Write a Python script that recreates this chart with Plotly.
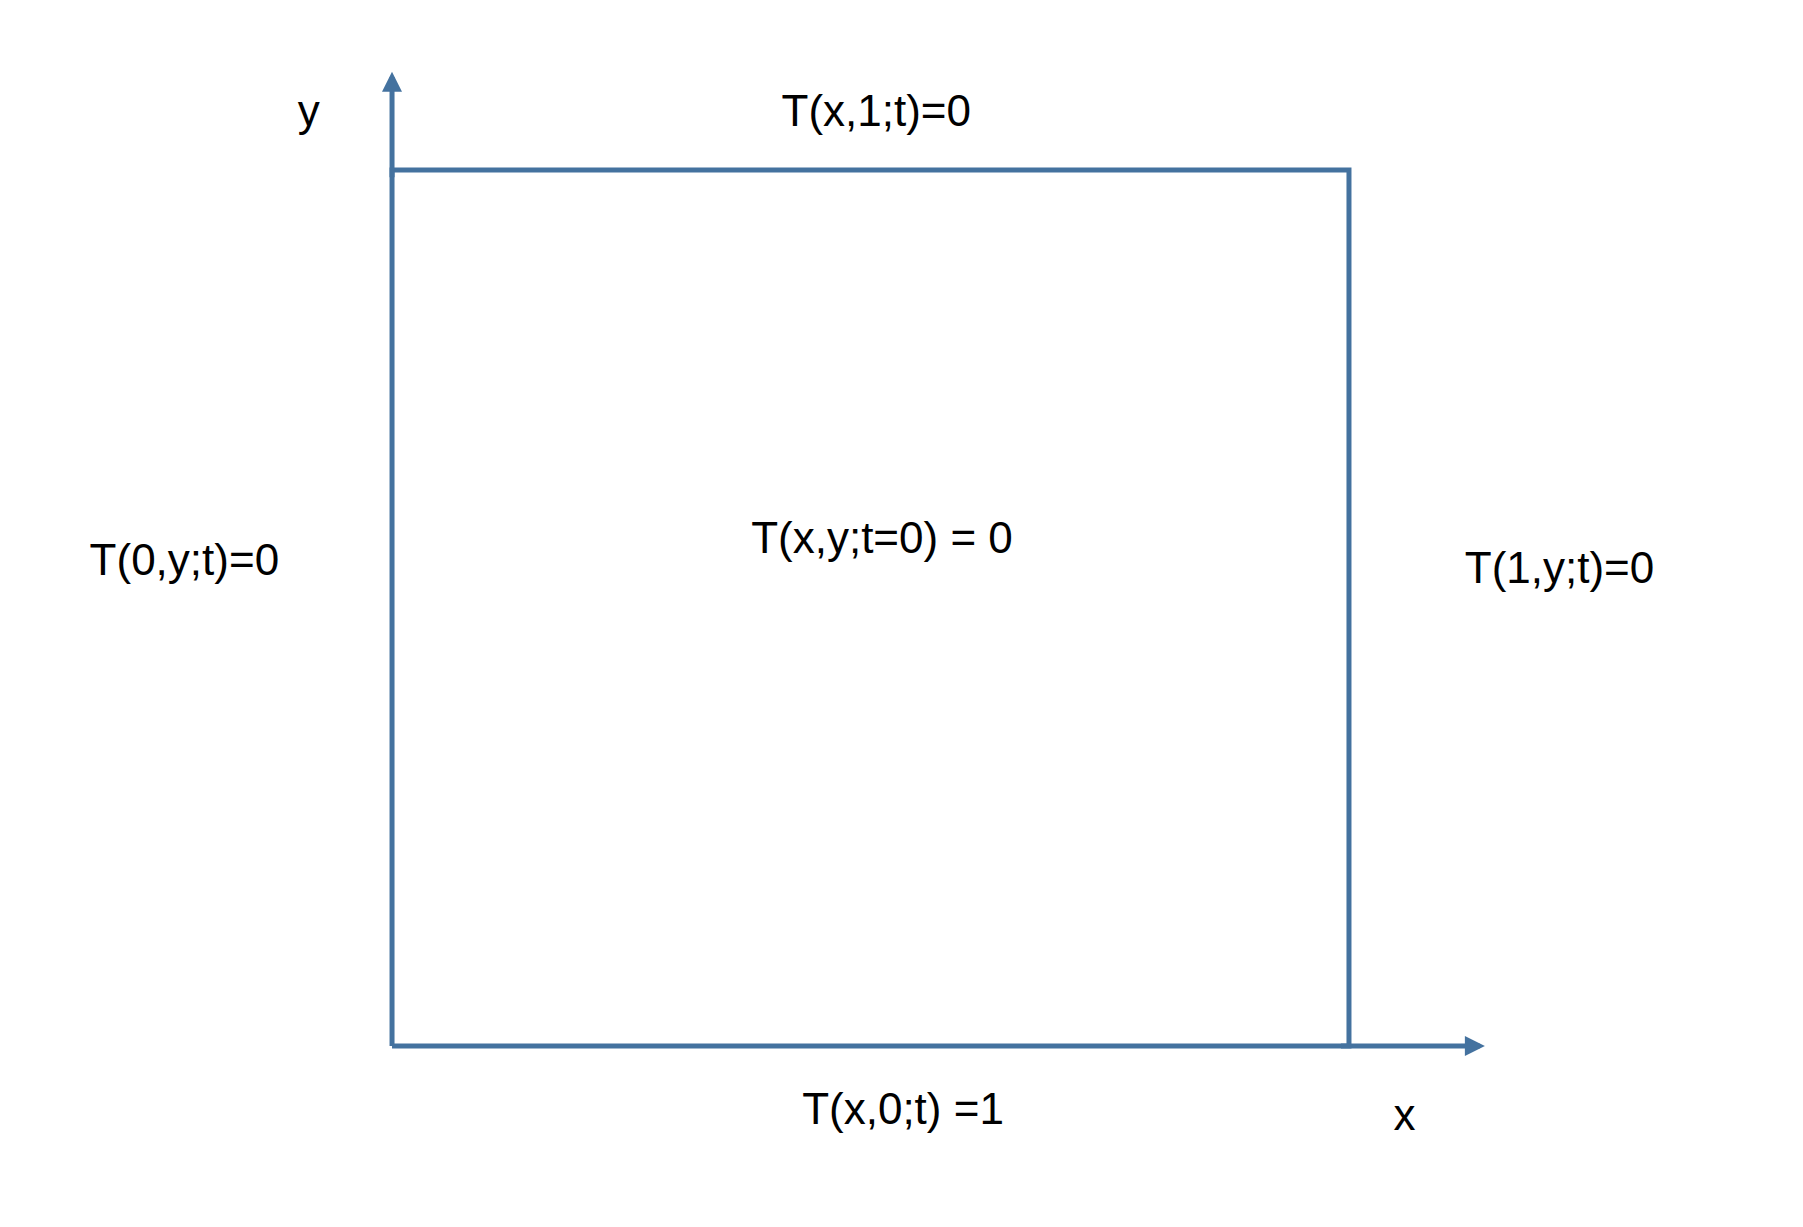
import plotly.graph_objects as go

# square domain corners (unit square)
box_x = [0, 1, 1, 0, 0]
box_y = [0, 0, 1, 1, 0]

# boundary / initial condition labels and their positions (data units)
labels = ["T(x,1;t)=0", "T(0,y;t)=0", "T(x,y;t=0) = 0", "T(1,y;t)=0", "T(x,0;t) =1", "x", "y"]
label_x = [0.506, -0.217, 0.512, 1.22, 0.534, 1.058, -0.087]
label_y = [1.063, 0.55, 0.575, 0.541, -0.077, -0.083, 1.063]

color = "#44729f"

fig = go.Figure()
fig.add_trace(go.Scatter(x=box_x, y=box_y, mode="lines",
                         line=dict(color=color, width=5), hoverinfo="skip"))
fig.add_trace(go.Scatter(x=label_x, y=label_y, mode="text", text=labels,
                         textfont=dict(family="Liberation Sans", size=44, color="black"),
                         hoverinfo="skip"))

# axis arrows
fig.add_annotation(x=1.142, y=0, ax=0.99, ay=0, xref="x", yref="y", axref="x", ayref="y",
                   showarrow=True, arrowhead=2, arrowsize=0.8, arrowwidth=5,
                   arrowcolor=color, text="")
fig.add_annotation(x=0, y=1.112, ax=0, ay=0.99, xref="x", yref="y", axref="x", ayref="y",
                   showarrow=True, arrowhead=2, arrowsize=0.8, arrowwidth=5,
                   arrowcolor=color, text="")

fig.update_layout(
    width=1803, height=1227,
    margin=dict(l=0, r=0, t=0, b=0),
    plot_bgcolor="white", paper_bgcolor="white",
    showlegend=False,
    xaxis=dict(range=[-0.4013, 1.4828], visible=False),
    yaxis=dict(range=[-0.2158, 1.1849], visible=False),
)

fig.write_html("out.html", config={"displayModeBar": False})
